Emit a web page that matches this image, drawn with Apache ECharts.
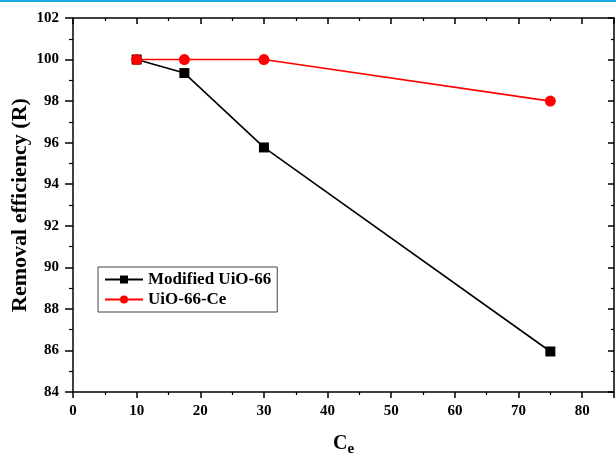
<!DOCTYPE html>
<html><head><meta charset="utf-8">
<script src="https://cdn.jsdelivr.net/npm/echarts@6/dist/echarts.min.js"></script>
<style>html,body{margin:0;padding:0;background:#fff}#c{width:616px;height:456px}</style>
</head><body><div id="c"></div>
<script>
const ceModified = [10, 17.5, 30, 75];
const rModified = [100, 99.35, 95.77, 85.95];
const ceCe = [10, 17.5, 30, 75];
const rCe = [100, 100, 100, 98];
const seriesNames = ['Modified UiO-66', 'UiO-66-Ce'];
const xTitle = 'C';
const xSub = 'e';
const yTitle = 'Removal efficiency (R)';

const font = '"Liberation Serif", "Times New Roman", serif';
const chart = echarts.init(document.getElementById('c'));
const axisCommon = {
  axisLine: {show: true, onZero: false, lineStyle: {color: '#000', width: 1.5}},
  splitLine: {show: false},
  minorSplitLine: {show: false}
};
chart.setOption({
  animation: false,
  backgroundColor: '#fff',
  textStyle: {fontFamily: font},
  graphic: [{type: 'rect', shape: {x: 0, y: 0, width: 616, height: 2}, style: {fill: '#1aa7e0'}}],
  grid: {left: 73, right: 2, top: 18, bottom: 64, containLabel: false, outerBoundsMode: 'none'},
  legend: {
    left: 98, top: 267, orient: 'vertical',
    borderColor: '#444', borderWidth: 1, backgroundColor: '#fff',
    padding: [4, 6, 4, 6], itemGap: 3, itemWidth: 38, itemHeight: 10,
    textStyle: {fontFamily: font, fontWeight: 'bold', fontSize: 17, color: '#000'},
    data: seriesNames
  },
  xAxis: [
    Object.assign({
      type: 'value', min: 0, max: 85, interval: 10, position: 'bottom',
      name: '{a|' + xTitle + '}{b|' + xSub + '}', nameLocation: 'middle', nameGap: 38,
      nameMoveOverlap: false,
      nameTextStyle: {rich: {
        a: {fontFamily: font, fontWeight: 'bold', fontSize: 20, color: '#000'},
        b: {fontFamily: font, fontWeight: 'bold', fontSize: 15, color: '#000', padding: [12, 0, 0, 0]}
      }},
      axisTick: {show: true, inside: false, length: 6, lineStyle: {width: 1.5, color: '#000'}},
      minorTick: {show: true, splitNumber: 2, length: 3, lineStyle: {width: 1.2, color: '#000'}},
      axisLabel: {fontFamily: font, fontWeight: 'bold', fontSize: 15, color: '#000', margin: 12,
        formatter: v => v > 80 ? '' : v}
    }, axisCommon),
    Object.assign({
      type: 'value', min: 0, max: 85, interval: 10, position: 'top',
      axisTick: {show: true, inside: true, length: 6, lineStyle: {width: 1.5, color: '#000'}},
      minorTick: {show: true, splitNumber: 2, length: 3, lineStyle: {width: 1.2, color: '#000'}},
      axisLabel: {show: false}
    }, axisCommon)
  ],
  yAxis: [
    Object.assign({
      type: 'value', min: 84, max: 102, interval: 2, position: 'left',
      name: yTitle, nameLocation: 'middle', nameGap: 42, nameRotate: 90,
      nameMoveOverlap: false,
      nameTextStyle: {fontFamily: font, fontWeight: 'bold', fontSize: 22, color: '#000'},
      axisTick: {show: true, inside: false, length: 8, lineStyle: {width: 1.5, color: '#000'}},
      minorTick: {show: true, splitNumber: 2, length: 4, lineStyle: {width: 1.2, color: '#000'}},
      axisLabel: {fontFamily: font, fontWeight: 'bold', fontSize: 15, color: '#000', margin: 14}
    }, axisCommon),
    Object.assign({
      type: 'value', min: 84, max: 102, interval: 2, position: 'right',
      axisTick: {show: true, inside: true, length: 6, lineStyle: {width: 1.5, color: '#000'}},
      minorTick: {show: true, splitNumber: 2, length: 3, lineStyle: {width: 1.2, color: '#000'}},
      axisLabel: {show: false}
    }, axisCommon)
  ],
  series: [
    {
      name: seriesNames[0], type: 'line', xAxisIndex: 0, yAxisIndex: 0,
      data: ceModified.map((x, i) => [x, rModified[i]]),
      symbol: 'rect', symbolSize: 10,
      itemStyle: {color: '#000'}, lineStyle: {color: '#000', width: 1.6}
    },
    {
      name: seriesNames[1], type: 'line', xAxisIndex: 0, yAxisIndex: 0,
      data: ceCe.map((x, i) => [x, rCe[i]]),
      symbol: 'circle', symbolSize: 11,
      itemStyle: {color: '#ff0000'}, lineStyle: {color: '#ff0000', width: 1.6}
    }
  ]
});
</script></body></html>
